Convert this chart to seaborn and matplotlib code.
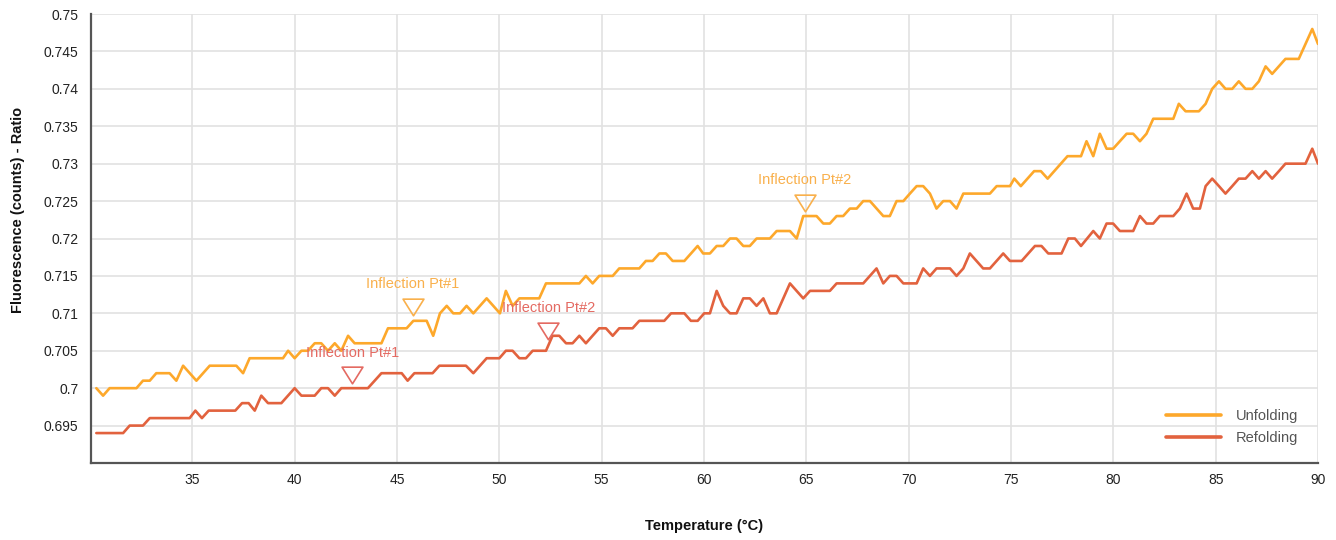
import numpy as np
import pandas as pd
import matplotlib
matplotlib.use("Agg")
import matplotlib.pyplot as plt
import seaborn as sns
from matplotlib.ticker import FuncFormatter
from matplotlib.path import Path

# ---------------- data ----------------
unfold_temp = [30.31, 30.64, 30.96, 32.27, 32.59, 32.92, 33.24, 33.89, 34.22, 34.55,
               35.20, 35.85, 37.15, 37.48, 37.80, 39.43, 39.68, 40.00, 40.33, 40.65,
               40.98, 41.30, 41.63, 41.96, 42.28, 42.61, 42.93, 44.24, 44.56, 45.47,
               45.80, 46.45, 46.77, 47.10, 47.43, 47.75, 48.08, 48.40, 48.73, 49.38,
               50.03, 50.32, 50.65, 50.98, 51.95, 52.28, 53.91, 54.23, 54.56, 54.88,
               55.54, 55.86, 56.84, 57.16, 57.49, 57.82, 58.14, 58.47, 59.04, 59.69,
               59.96, 60.29, 60.62, 60.94, 61.27, 61.59, 61.92, 62.24, 62.57, 63.22,
               63.55, 64.20, 64.53, 64.85, 65.50, 65.83, 66.15, 66.48, 66.80, 67.13,
               67.46, 67.78, 68.11, 68.76, 69.08, 69.41, 69.74, 70.06, 70.39, 70.71,
               71.04, 71.36, 71.69, 72.02, 72.34, 72.67, 73.97, 74.30, 74.95, 75.16,
               75.48, 76.13, 76.46, 76.79, 77.76, 78.42, 78.69, 79.02, 79.34, 79.67,
               79.99, 80.65, 80.97, 81.30, 81.62, 81.95, 82.93, 83.20, 83.53, 84.18,
               84.51, 84.83, 85.16, 85.48, 85.81, 86.13, 86.46, 86.79, 87.11, 87.44,
               87.76, 88.41, 89.06, 89.72, 90.00]
unfold_ratio = [0.700, 0.699, 0.700, 0.700, 0.701, 0.701, 0.702, 0.702, 0.701, 0.703,
                0.701, 0.703, 0.703, 0.702, 0.704, 0.704, 0.705, 0.704, 0.705, 0.705,
                0.706, 0.706, 0.705, 0.706, 0.705, 0.707, 0.706, 0.706, 0.708, 0.708,
                0.709, 0.709, 0.707, 0.710, 0.711, 0.710, 0.710, 0.711, 0.710, 0.712,
                0.710, 0.713, 0.711, 0.712, 0.712, 0.714, 0.714, 0.715, 0.714, 0.715,
                0.715, 0.716, 0.716, 0.717, 0.717, 0.718, 0.718, 0.717, 0.717, 0.719,
                0.718, 0.718, 0.719, 0.719, 0.720, 0.720, 0.719, 0.719, 0.720, 0.720,
                0.721, 0.721, 0.720, 0.723, 0.723, 0.722, 0.722, 0.723, 0.723, 0.724,
                0.724, 0.725, 0.725, 0.723, 0.723, 0.725, 0.725, 0.726, 0.727, 0.727,
                0.726, 0.724, 0.725, 0.725, 0.724, 0.726, 0.726, 0.727, 0.727, 0.728,
                0.727, 0.729, 0.729, 0.728, 0.731, 0.731, 0.733, 0.731, 0.734, 0.732,
                0.732, 0.734, 0.734, 0.733, 0.734, 0.736, 0.736, 0.738, 0.737, 0.737,
                0.738, 0.740, 0.741, 0.740, 0.740, 0.741, 0.740, 0.740, 0.741, 0.743,
                0.742, 0.744, 0.744, 0.748, 0.746]

refold_temp = [30.31, 31.62, 31.94, 32.59, 32.92, 34.87, 35.15, 35.47, 35.80, 37.10,
               37.43, 37.75, 38.05, 38.37, 38.70, 39.35, 40.00, 40.33, 40.98, 41.30,
               41.63, 41.96, 42.28, 43.58, 44.24, 45.23, 45.52, 45.85, 46.74, 47.07,
               48.37, 48.73, 49.38, 50.00, 50.32, 50.65, 50.98, 51.30, 51.63, 52.28,
               52.60, 52.93, 53.26, 53.58, 53.91, 54.23, 54.88, 55.21, 55.54, 55.86,
               56.51, 56.84, 58.06, 58.39, 59.04, 59.36, 59.69, 60.01, 60.29, 60.62,
               60.94, 61.27, 61.59, 61.92, 62.24, 62.57, 62.90, 63.22, 63.55, 64.20,
               64.85, 65.18, 66.15, 66.48, 67.78, 68.43, 68.76, 69.08, 69.41, 69.74,
               70.39, 70.71, 71.04, 71.36, 72.02, 72.34, 72.67, 72.99, 73.64, 73.97,
               74.62, 74.95, 75.52, 76.17, 76.49, 76.82, 77.47, 77.80, 78.12, 78.42,
               79.02, 79.34, 79.67, 79.99, 80.32, 80.97, 81.30, 81.62, 81.95, 82.27,
               82.93, 83.25, 83.58, 83.90, 84.23, 84.51, 84.83, 85.16, 85.48, 85.81,
               86.13, 86.46, 86.79, 87.11, 87.44, 87.76, 88.09, 88.41, 89.39, 89.72,
               90.00]
refold_ratio = [0.694, 0.694, 0.695, 0.695, 0.696, 0.696, 0.697, 0.696, 0.697, 0.697,
                0.698, 0.698, 0.697, 0.699, 0.698, 0.698, 0.700, 0.699, 0.699, 0.700,
                0.700, 0.699, 0.700, 0.700, 0.702, 0.702, 0.701, 0.702, 0.702, 0.703,
                0.703, 0.702, 0.704, 0.704, 0.705, 0.705, 0.704, 0.704, 0.705, 0.705,
                0.707, 0.707, 0.706, 0.706, 0.707, 0.706, 0.708, 0.708, 0.707, 0.708,
                0.708, 0.709, 0.709, 0.710, 0.710, 0.709, 0.709, 0.710, 0.710, 0.713,
                0.711, 0.710, 0.710, 0.712, 0.712, 0.711, 0.712, 0.710, 0.710, 0.714,
                0.712, 0.713, 0.713, 0.714, 0.714, 0.716, 0.714, 0.715, 0.715, 0.714,
                0.714, 0.716, 0.715, 0.716, 0.716, 0.715, 0.716, 0.718, 0.716, 0.716,
                0.718, 0.717, 0.717, 0.719, 0.719, 0.718, 0.718, 0.720, 0.720, 0.719,
                0.721, 0.720, 0.722, 0.722, 0.721, 0.721, 0.723, 0.722, 0.722, 0.723,
                0.723, 0.724, 0.726, 0.724, 0.724, 0.727, 0.728, 0.727, 0.726, 0.727,
                0.728, 0.728, 0.729, 0.728, 0.729, 0.728, 0.729, 0.730, 0.730, 0.732,
                0.730]

series_names = ["Unfolding", "Refolding"]
line_colors = ["#FDA82B", "#E2623E"]
label_colors = ["#F9B04C", "#E46A62"]

infl_labels = ["Inflection Pt#1", "Inflection Pt#2", "Inflection Pt#1", "Inflection Pt#2"]
infl_series = ["Unfolding", "Unfolding", "Refolding", "Refolding"]
infl_temp = [45.78, 64.92, 42.82, 52.39]
infl_ratio = [0.7108, 0.7247, 0.7017, 0.7076]

x_ticks = [35, 40, 45, 50, 55, 60, 65, 70, 75, 80, 85, 90]
y_ticks = [0.695, 0.700, 0.705, 0.710, 0.715, 0.720, 0.725, 0.730, 0.735, 0.740, 0.745, 0.750]

# ---------------- figure ----------------
sns.set_style("whitegrid")
plt.rcParams["font.family"] = ["Liberation Sans", "DejaVu Sans"]

W, H = 1336, 540
fig = plt.figure(figsize=(W / 100, H / 100), dpi=100)
L, R, T, B = 91, 1318, 14, 463
ax = fig.add_axes([L / W, 1 - B / H, (R - L) / W, (B - T) / H])

df = pd.concat([
    pd.DataFrame({"Temperature": unfold_temp, "Ratio": unfold_ratio, "Series": series_names[0]}),
    pd.DataFrame({"Temperature": refold_temp, "Ratio": refold_ratio, "Series": series_names[1]}),
], ignore_index=True)

palette = dict(zip(series_names, line_colors))
sns.lineplot(data=df, x="Temperature", y="Ratio", hue="Series", hue_order=series_names,
             palette=palette, estimator=None, sort=False, linewidth=1.9, ax=ax, zorder=3)

ax.set_xlim(30.05, 90)
ax.set_ylim(0.69, 0.75)
ax.set_xticks(x_ticks)
ax.set_yticks(y_ticks)
ax.yaxis.set_major_formatter(FuncFormatter(lambda v, p: f"{round(v, 3):g}"))
ax.xaxis.set_major_formatter(FuncFormatter(lambda v, p: f"{v:g}"))

ax.grid(True, color="#e2e2e2", linewidth=1.2)
ax.set_axisbelow(True)
for s in ["top", "right"]:
    ax.spines[s].set_visible(False)
for s in ["left", "bottom"]:
    ax.spines[s].set_visible(True)
    ax.spines[s].set_color("#555555")
    ax.spines[s].set_linewidth(1.6)
ax.tick_params(axis="both", which="major", length=6, width=1.3, color="#444444",
               labelsize=10, labelcolor="#222222", direction="out", pad=3)
ax.tick_params(axis="x", pad=1.5)

ax.set_xlabel("Temperature (°C)", fontsize=10.5, fontweight="bold", labelpad=23, color="#111111")
ax.set_ylabel("Fluorescence (counts) - Ratio", fontsize=10.5, fontweight="bold", color="#111111")
ax.yaxis.set_label_coords(-0.0538, 0.5635)

# inflection markers (hollow down-pointing triangles)
tri = Path([(-1, 0.8), (1, 0.8), (0, -0.8), (-1, 0.8)],
           [Path.MOVETO, Path.LINETO, Path.LINETO, Path.CLOSEPOLY])
for lab, ser, tx, ty in zip(infl_labels, infl_series, infl_temp, infl_ratio):
    i = series_names.index(ser)
    ax.plot([tx], [ty], marker=tri, ms=15, mfc="none", mec=label_colors[i], mew=1.2,
            ls="none", zorder=4)
    ax.annotate(lab, (tx, ty), xytext=(0, 16.5), textcoords="offset points",
                ha="center", va="center", fontsize=10.5, color=label_colors[i], zorder=5)

handles, labels = ax.get_legend_handles_labels()
leg = ax.legend(handles, labels, loc="upper left", bbox_to_anchor=(0.876, 0.1205),
                frameon=False, handlelength=3.8, handletextpad=1.0, labelspacing=0.55,
                fontsize=10.5, borderpad=0, borderaxespad=0)
for t in leg.get_texts():
    t.set_color("#555555")
for ln in leg.get_lines():
    ln.set_linewidth(2.6)

fig.savefig("out.png", dpi=100)
